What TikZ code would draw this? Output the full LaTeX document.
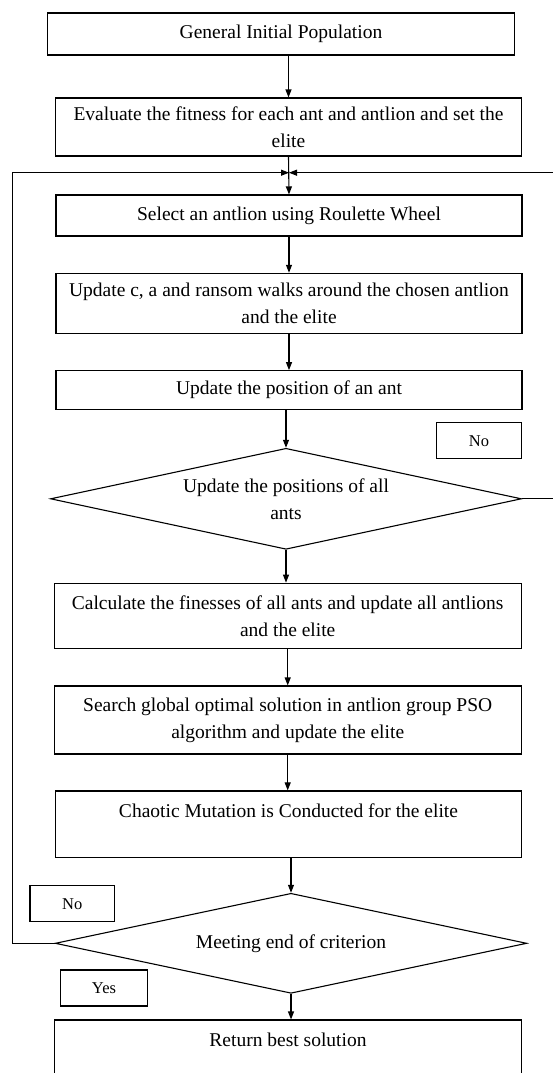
\documentclass[tikz,border=0pt]{standalone}
\usepackage{fontspec}
\setmainfont{Liberation Serif}
\usepackage{tikz}
\usetikzlibrary{shapes.geometric, arrows.meta}
\newcommand{\flowfont}{\fontsize{19.5}{27}\selectfont}
\newcommand{\choicefont}{\fontsize{16.5}{20}\selectfont}

\begin{document}
\begin{tikzpicture}[x=1pt, y=-1pt,
        every node/.style={line width=1.1pt},
        procbox/.style={draw, rectangle, align=center, inner sep=0pt,
            minimum width=466pt, font=\flowfont},
        decision/.style={draw, diamond, align=center, inner sep=0pt,
            shape aspect=4.66, minimum width=471pt, minimum height=101pt,
            font=\flowfont},
        choice/.style={draw, rectangle, inner sep=0pt, minimum width=85pt,
            minimum height=36pt, font=\choicefont},
        flow/.style={line width=1.1pt, -{Triangle[length=8pt, width=6pt]}},
    ]
    \useasboundingbox (0,0) rectangle (553,1073);

    \node [procbox, minimum width=467pt, minimum height=42pt] (init) at (281,34)
        {General Initial Population};
    \node [procbox, minimum height=58pt] (eval) at (288.5,127)
        {Evaluate the fitness for each ant and antlion and set the\\elite};
    \node [procbox, minimum height=41pt] (select) at (289,215.5)
        {Select an antlion using Roulette Wheel};
    \node [procbox, minimum height=60pt] (walks) at (289,303.3)
        {Update c, a and ransom walks around the chosen antlion\\and the elite};
    \node [procbox, minimum height=38.7pt] (antpos) at (289,390)
        {Update the position of an ant};
    \node [decision] (alldone) at (286,498.8)
        {Update the positions of all\\ants};
    \node [procbox, minimum width=467pt, minimum height=65.7pt] (fitness) at (287.7,616)
        {Calculate the finesses of all ants and update all antlions\\and the elite};
    \node [procbox, minimum width=467pt, minimum height=68pt] (pso) at (287.7,720)
        {Search global optimal solution in antlion group PSO\\algorithm and update the elite};
    \node [procbox, minimum height=66.7pt] (chaos) at (288.5,824.3)
        {Chaotic Mutation is Conducted for the elite\\\mbox{}};
    \node [decision, minimum width=471.6pt, minimum height=100pt] (crit) at (291,943.3)
        {Meeting end of criterion};
    \node [procbox, minimum width=466.6pt, minimum height=67pt] (best) at (288,1053.5)
        {Return best solution\\\mbox{}};

    \node [choice] (noright) at (479,440.7) {No};
    \node [choice, minimum width=84.6pt] (noleft) at (72.3,903.7) {No};
    \node [choice, minimum width=86.7pt] (yes) at (104,988) {Yes};

    \coordinate (merge) at (289,172.7);
    \coordinate (loopleft) at (12.3,172.7);
    \coordinate (loopright) at (557,172.7);

    \draw [flow] (init.south -| eval.north) -- (eval.north);
    \draw [flow] (eval.south) -- (select.north);
    \draw [flow] (select.south) -- (walks.north);
    \draw [flow] (walks.south) -- (antpos.north);
    \draw [flow] (antpos.south -| alldone.north) -- (alldone.north);
    \draw [flow] (alldone.south) -- (alldone.south |- fitness.north);
    \draw [flow] (fitness.south) -- (fitness.south |- pso.north);
    \draw [flow] (pso.south) -- (pso.south |- chaos.north);
    \draw [flow] (chaos.south -| crit.north) -- (crit.north);
    \draw [flow] (crit.south) -- (crit.south |- best.north);
    \draw [flow] (crit.west) -| (loopleft) -- (merge);
    \draw [flow] (alldone.east) -| (loopright) -- (merge);
\end{tikzpicture}
\end{document}
